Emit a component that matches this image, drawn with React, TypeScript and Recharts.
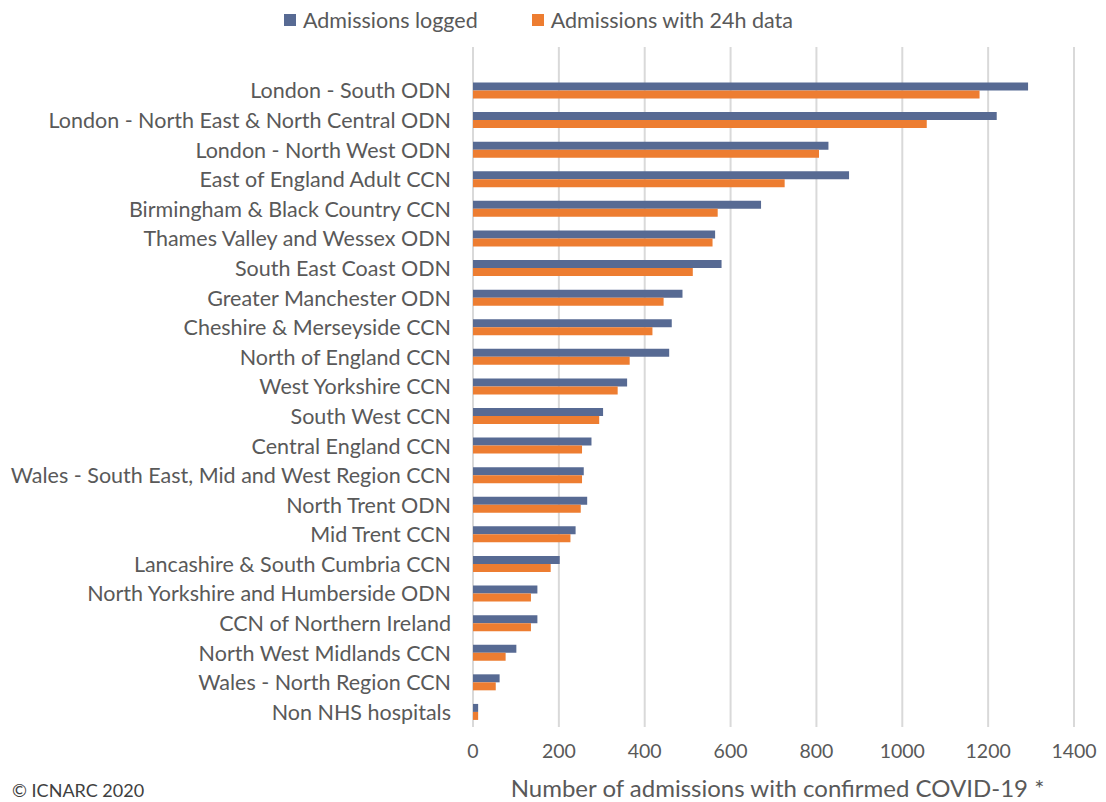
import { Bar, BarChart, CartesianGrid, Label, XAxis, YAxis } from "recharts";

const regions = [
  "London - South ODN",
  "London - North East & North Central ODN",
  "London - North West ODN",
  "East of England Adult CCN",
  "Birmingham & Black Country CCN",
  "Thames Valley and Wessex ODN",
  "South East Coast ODN",
  "Greater Manchester ODN",
  "Cheshire & Merseyside CCN",
  "North of England CCN",
  "West Yorkshire CCN",
  "South West CCN",
  "Central England CCN",
  "Wales - South East, Mid and West Region CCN",
  "North Trent ODN",
  "Mid Trent CCN",
  "Lancashire & South Cumbria CCN",
  "North Yorkshire and Humberside ODN",
  "CCN of Northern Ireland",
  "North West Midlands CCN",
  "Wales - North Region CCN",
  "Non NHS hospitals",
];

const admissionsLogged = [
  1293, 1220, 828, 876, 671, 564, 579, 488, 463, 457, 359,
  303, 276, 258, 266, 239, 202, 150, 150, 101, 62, 12,
];

const admissions24h = [
  1180, 1057, 806, 726, 570, 558, 512, 444, 418, 365, 337,
  294, 254, 254, 251, 227, 181, 135, 135, 76, 53, 12,
];

const xTicks = [0, 200, 400, 600, 800, 1000, 1200, 1400];

const BLUE = "#576A93";
const ORANGE = "#ED7D31";
const TEXT = "#595959";
const FONT = "Lato, 'Open Sans', sans-serif";

const data = regions.map((name, i) => ({
  name,
  logged: admissionsLogged[i],
  with24h: admissions24h[i],
}));

const legendItems = [
  { label: "Admissions logged", color: BLUE },
  { label: "Admissions with 24h data", color: ORANGE },
];

// legend sits above the plot, outside the svg so it doesn't eat plot space
const ChartLegend = () => (
  <div
    style={{
      position: "absolute",
      left: 284,
      top: 7,
      display: "flex",
      alignItems: "center",
      gap: 54,
      fontFamily: FONT,
      fontSize: 21.5,
      color: TEXT,
      whiteSpace: "nowrap",
    }}
  >
    {legendItems.map((item) => (
      <div key={item.label} style={{ display: "flex", alignItems: "center", gap: 7 }}>
        <span style={{ width: 12, height: 12, background: item.color, display: "inline-block" }} />
        <span>{item.label}</span>
      </div>
    ))}
  </div>
);

export default function App() {
  return (
    <div style={{ position: "absolute", left: 0, top: 0, width: 1106, height: 802, background: "#fff" }}>
      <BarChart
        width={1106}
        height={802}
        data={data}
        layout="vertical"
        margin={{ top: 47, right: 32, bottom: 0, left: 0 }}
        barCategoryGap="22%"
        barGap={0}
      >
        <CartesianGrid horizontal={false} stroke="#D9D9D9" strokeWidth={2} />
        <XAxis
          type="number"
          domain={[0, 1400]}
          ticks={xTicks}
          height={75}
          axisLine={false}
          tickLine={false}
          tickSize={0}
          tickMargin={17}
          tick={{ fill: TEXT, fontSize: 19.5, fontFamily: FONT }}
        >
          <Label
            value="Number of admissions with confirmed COVID-19 *"
            position="insideBottom"
            offset={5}
            dx={4}
            style={{ fill: TEXT, fontSize: 24, fontFamily: FONT }}
          />
        </XAxis>
        <YAxis
          type="category"
          dataKey="name"
          width={473}
          padding={{ top: 29, bottom: 0 }}
          axisLine={false}
          tickLine={false}
          tickSize={0}
          tickMargin={22}
          interval={0}
          tick={{ fill: TEXT, fontSize: 21.5, fontFamily: FONT }}
        />
        <Bar dataKey="logged" name="Admissions logged" fill={BLUE} isAnimationActive={false} />
        <Bar dataKey="with24h" name="Admissions with 24h data" fill={ORANGE} isAnimationActive={false} />
      </BarChart>
      <ChartLegend />
      <div
        style={{
          position: "absolute",
          left: 12,
          top: 779,
          fontFamily: FONT,
          fontSize: 18,
          color: "#404040",
        }}
      >
        © ICNARC 2020
      </div>
    </div>
  );
}
